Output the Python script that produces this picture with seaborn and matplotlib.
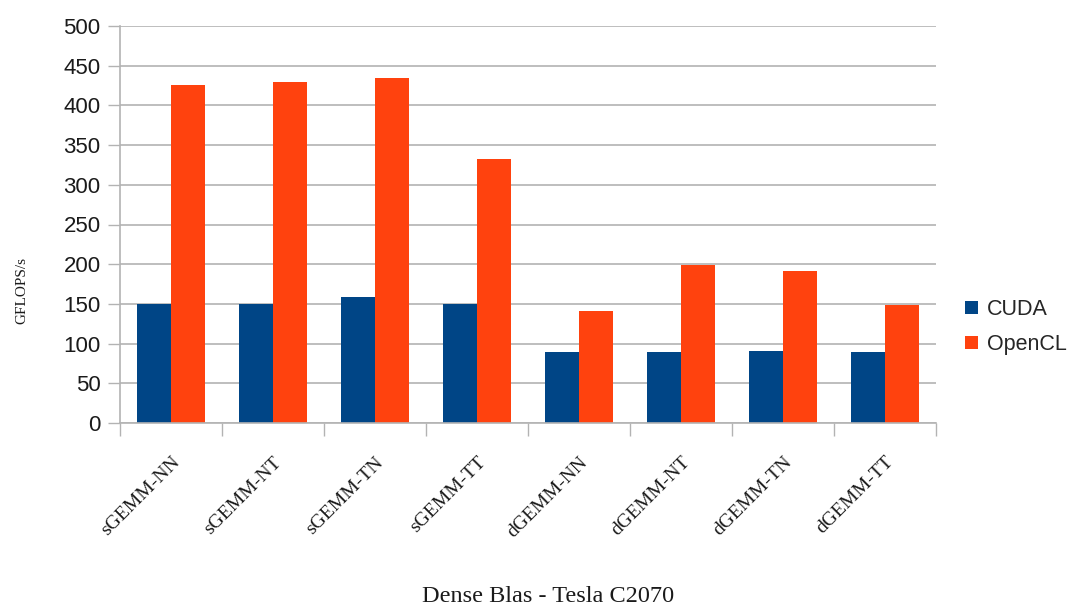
import matplotlib
matplotlib.use("Agg")
import matplotlib.pyplot as plt
import seaborn as sns
import pandas as pd
import numpy as np

categories = ["sGEMM-NN", "sGEMM-NT", "sGEMM-TN", "sGEMM-TT",
              "dGEMM-NN", "dGEMM-NT", "dGEMM-TN", "dGEMM-TT"]
cuda = [150, 150, 159, 150, 89, 90, 91, 89]
opencl = [426, 430, 435, 332, 141, 199, 191, 149]
series = ["CUDA", "OpenCL"]
colors = ["#004586", "#ff420e"]
yticks = [0, 50, 100, 150, 200, 250, 300, 350, 400, 450, 500]

df = pd.DataFrame({
    "cat": categories * 2,
    "series": [series[0]] * len(categories) + [series[1]] * len(categories),
    "value": cuda + opencl,
})

sns.set_theme(style="white")
fig = plt.figure(figsize=(10.76, 6.09), dpi=100)
ax = fig.add_axes([120 / 1076, 1 - 423 / 609, (936 - 120) / 1076, (423 - 26) / 609])

sns.barplot(data=df, x="cat", y="value", hue="series", order=categories,
            hue_order=series, palette=colors, width=0.667, gap=0,
            saturation=1, edgecolor="none", linewidth=0, ax=ax, legend=True)

grid_c = "#b3b3b3"
txt_c = "#1a1a1a"
ax.set_ylim(0, 500)
ax.set_xlim(-0.5, len(categories) - 0.5)
ax.set_yticks(yticks)
ax.set_yticklabels([str(t) for t in yticks], family="Liberation Sans",
                   fontsize=16, color=txt_c)
ax.yaxis.grid(True, color=grid_c, linewidth=1.2)
ax.set_axisbelow(True)
ax.tick_params(axis="y", which="major", length=9, width=1, color=grid_c,
               left=True, pad=5)

# x labels at centers, separator ticks at boundaries
ax.set_xticks(np.arange(len(categories)))
ax.set_xticklabels(categories, rotation=45, ha="right", rotation_mode="anchor",
                   family="Liberation Serif", fontsize=14, color=txt_c)
ax.tick_params(axis="x", which="major", length=0, pad=22)
ax.set_xticks(np.arange(-0.5, len(categories)), minor=True)
ax.tick_params(axis="x", which="minor", length=9, width=1, color=grid_c,
               bottom=True, direction="out")

for s in ["top", "right"]:
    ax.spines[s].set_visible(False)
for s in ["left", "bottom"]:
    ax.spines[s].set_color(grid_c)
    ax.spines[s].set_linewidth(1.2)

ax.set_xlabel("")
ax.set_ylabel("")
fig.text(22 / 1076, 1 - 290 / 609, "GFLOPS/s", rotation=90, ha="center",
         va="center", family="Liberation Serif", fontsize=11, color=txt_c)
fig.text(548 / 1076, 1 - 597 / 609, "Dense Blas - Tesla C2070", ha="center",
         va="center", family="Liberation Serif", fontsize=17.5, color=txt_c)

handles, labels = ax.get_legend_handles_labels()
ax.legend(handles, labels, loc="center left",
          bbox_to_anchor=(954 / 1076, 1 - 327 / 609),
          bbox_transform=fig.transFigure, frameon=False,
          prop={"family": "Liberation Sans", "size": 15.5},
          handlelength=0.6, handleheight=0.6, handletextpad=0.45,
          labelspacing=0.65, borderpad=0)

fig.savefig("out.png", dpi=100)
